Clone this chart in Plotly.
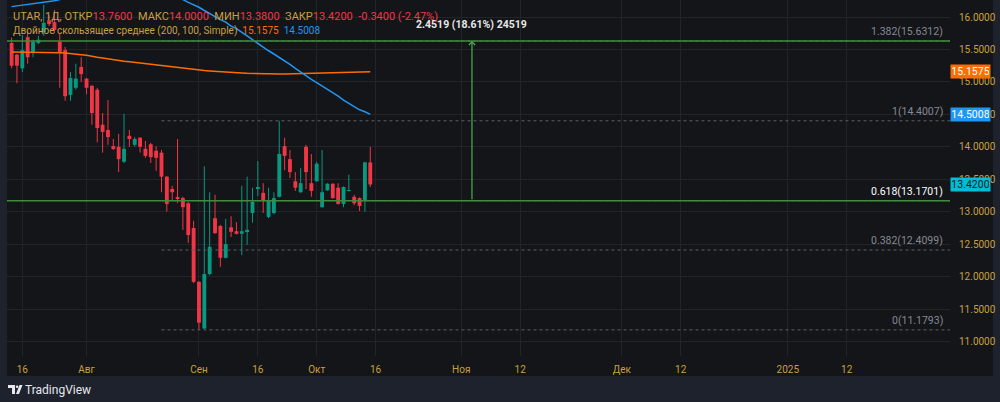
import plotly.graph_objects as go

# ---------------- data ----------------
opens = [15.60, 15.42, 15.21, 15.69, 15.45, 15.60, 15.77, 15.95, 15.92, 15.62,
         15.49, 14.80, 14.91, 15.23, 15.05, 14.94, 14.88, 14.34, 14.26, 14.01,
         14.00, 13.77, 14.17, 14.03, 14.14, 13.97, 14.04, 13.94, 13.91, 13.54,
         13.35, 13.21, 13.21, 13.13, 12.75, 11.92, 11.20, 12.04, 12.90, 12.78,
         12.29, 12.76, 12.70, 12.66, 12.70, 12.98, 13.35, 13.29, 12.92, 12.98,
         13.23, 14.01, 13.81, 13.47, 13.30, 14.00, 13.44, 13.47, 13.07, 13.33,
         13.43, 13.37, 13.12, 13.32, 13.23, 13.21, 13.17, 13.76]
highs = [15.68, 15.43, 15.72, 15.78, 15.65, 15.71, 16.19, 16.03, 16.11, 15.74,
         15.54, 15.15, 15.28, 15.38, 15.06, 14.95, 14.91, 14.52, 14.72, 14.12,
         14.20, 14.51, 14.26, 14.15, 14.15, 14.09, 14.06, 14.01, 13.95, 13.55,
         13.40, 14.12, 13.23, 13.15, 12.86, 11.93, 13.70, 13.30, 13.26, 12.80,
         12.89, 12.93, 12.84, 13.40, 13.54, 13.37, 13.78, 13.44, 13.37, 13.30,
         14.4007, 14.14, 13.95, 13.61, 13.67, 14.03, 13.89, 13.77, 13.95, 13.44,
         13.44, 13.44, 13.39, 13.57, 13.26, 13.22, 13.77, 14.00]
lows = [15.21, 14.98, 15.15, 15.28, 15.38, 15.58, 15.71, 15.86, 15.75, 14.91,
        14.71, 14.71, 14.88, 15.00, 14.81, 14.34, 14.07, 13.91, 14.03, 13.95,
        13.61, 13.75, 14.00, 14.00, 13.91, 13.83, 13.75, 13.63, 13.30, 13.00,
        13.17, 13.13, 12.72, 12.52, 11.90, 11.1793, 11.19, 12.02, 12.66, 12.15,
        12.28, 12.61, 12.65, 12.33, 12.49, 12.83, 13.24, 12.98, 12.90, 12.96,
        13.22, 13.64, 13.52, 13.32, 13.29, 13.35, 13.23, 13.46, 13.06, 13.32,
        13.20, 13.11, 13.07, 13.31, 13.10, 13.01, 13.00, 13.38]
closes = [15.25, 15.25, 15.49, 15.38, 15.62, 15.65, 15.91, 15.89, 15.80, 15.46,
          14.78, 15.06, 15.05, 15.12, 14.91, 14.52, 14.29, 14.23, 14.15, 13.98,
          13.81, 13.97, 14.12, 14.12, 14.00, 13.86, 13.84, 13.83, 13.54, 13.12,
          13.30, 13.20, 13.07, 12.64, 11.92, 11.29, 12.04, 12.46, 12.67, 12.29,
          12.50, 12.69, 12.66, 12.70, 12.72, 13.15, 13.38, 13.17, 13.18, 13.21,
          13.89, 13.86, 13.61, 13.37, 13.44, 13.61, 13.32, 13.74, 13.30, 13.43,
          13.21, 13.12, 13.38, 13.33, 13.13, 13.09, 13.76, 13.42]
sma200 = [15.46, 15.46, 15.46, 15.46, 15.46, 15.46, 15.46, 15.455, 15.45, 15.45,
          15.445, 15.44, 15.43, 15.42, 15.41, 15.39, 15.38, 15.37, 15.355, 15.34,
          15.33, 15.32, 15.31, 15.30, 15.29, 15.28, 15.27, 15.255, 15.245, 15.235,
          15.225, 15.215, 15.205, 15.195, 15.19, 15.18, 15.175, 15.17, 15.163, 15.157,
          15.152, 15.147, 15.142, 15.138, 15.134, 15.13, 15.127, 15.124, 15.122, 15.121,
          15.121, 15.122, 15.124, 15.126, 15.128, 15.13, 15.133, 15.135, 15.138, 15.14,
          15.143, 15.146, 15.148, 15.15, 15.152, 15.154, 15.156, 15.1575]
sma100 = [16.16, 16.17, 16.18, 16.19, 16.20, 16.21, 16.22, 16.23, 16.25, 16.27,
          16.29, 16.31, 16.33, 16.35, 16.36, 16.37, 16.38, 16.39, 16.40, 16.40,
          16.41, 16.41, 16.41, 16.40, 16.40, 16.39, 16.38, 16.37, 16.36, 16.34,
          16.32, 16.30, 16.27, 16.225, 16.19, 16.15, 16.10, 16.05, 16.01, 15.96,
          15.92, 15.86, 15.82, 15.77, 15.71, 15.65, 15.59, 15.54, 15.48, 15.43,
          15.38, 15.32, 15.27, 15.21, 15.15, 15.10, 15.04, 14.99, 14.94, 14.88,
          14.83, 14.78, 14.72, 14.67, 14.62, 14.57, 14.54, 14.5008]
tick_idx = [2, 14, 35, 46, 57, 68, 84, 95, 114, 125, 145, 156]
tick_lbl = ["16", "Авг", "Сен", "16", "Окт", "16", "Ноя", "12", "Дек", "12", "2025", "12"]
fib_ratio = ["0", "0.382", "0.618", "1", "1.382"]
fib_price = [11.1793, 12.4099, 13.1701, 14.4007, 15.6312]
fib_start = 28
range_bar = 86
range_from = 13.1701
range_to = 15.6312
range_text = "2.4519 (18.61%) 24519"
ticker = "UTAR, 1Д, "
ma_name = "Двойное скользящее среднее (200, 100, Simple)"

# ---------------- style ----------------
W, H = 1000, 402
OUTER = "#1e222d"
PANEL = "#131519"
GRID = "#212429"
GOLD = "#c9a040"
RED = "#f23645"
GREEN = "#089981"
ORANGE = "#ff6d00"
BLUE = "#2196f3"
CYAN = "#00bcd4"
FIBGREEN = "#3f8d3c"
FONT = "Liberation Sans Narrow, Roboto, Arial"
X_RANGE = [-0.86, 175.3]
Y_RANGE = [10.777, 16.262]
PLOT_L, PLOT_R, PLOT_B = 7, 950, 356
PANEL_R, PANEL_B = 993, 376


def px(x):
    return x / W


def py(y):
    return 1 - y / H


idx = list(range(len(opens)))
up = [c >= o for o, c in zip(opens, closes)]

fig = go.Figure()

# wicks
for is_up, col in ((True, GREEN), (False, RED)):
    wx, wy = [], []
    for i in idx:
        if up[i] == is_up:
            wx += [i, i, None]
            wy += [lows[i], highs[i], None]
    fig.add_trace(go.Scatter(x=wx, y=wy, mode="lines", line=dict(color=col, width=1),
                             hoverinfo="skip", showlegend=False))

# bodies
bases = [min(o, c) for o, c in zip(opens, closes)]
heights = [max(abs(c - o), 0.012) for o, c in zip(opens, closes)]
fig.add_trace(go.Bar(x=idx, y=heights, base=bases, width=0.72,
                     marker=dict(color=[GREEN if u else RED for u in up], line=dict(width=0)),
                     showlegend=False, hoverinfo="skip"))

# moving averages
fig.add_trace(go.Scatter(x=idx, y=sma200, mode="lines", line=dict(color=ORANGE, width=1.5),
                         showlegend=False, hoverinfo="skip"))
fig.add_trace(go.Scatter(x=idx, y=sma100, mode="lines", line=dict(color=BLUE, width=1.5),
                         showlegend=False, hoverinfo="skip"))

shapes = [dict(type="rect", xref="paper", yref="paper", x0=px(PLOT_L), x1=px(PANEL_R),
               y0=py(PANEL_B), y1=1, fillcolor=PANEL, line=dict(width=0), layer="below")]

annotations = []
# fib levels
for r, p in zip(fib_ratio, fib_price):
    shapes.append(dict(type="line", xref="x", yref="y", x0=fib_start, x1=X_RANGE[1], y0=p, y1=p,
                       line=dict(color="#5d6068", width=1, dash="dot")))
    annotations.append(dict(xref="x", yref="y", x=X_RANGE[1], y=p, xanchor="right", yanchor="bottom",
                            xshift=-5, yshift=1, showarrow=False,
                            text=f"{r}({p:.4f})",
                            font=dict(family=FONT, size=10.5,
                                      color="#ffffff" if r == "0.618" else "#868993")))
# green horizontal lines
for p in (range_from, range_to):
    shapes.append(dict(type="line", xref="x", yref="y", x0=X_RANGE[0], x1=X_RANGE[1], y0=p, y1=p,
                       line=dict(color=FIBGREEN, width=1.6)))

# price range arrow
annotations.append(dict(xref="x", yref="y", axref="x", ayref="y", x=range_bar, y=range_to,
                        ax=range_bar, ay=range_from, showarrow=True, arrowhead=4, arrowsize=1,
                        arrowwidth=1.2, arrowcolor="#4caf50", text=""))
annotations.append(dict(xref="x", yref="y", x=range_bar, y=range_to, yanchor="bottom", yshift=8,
                        showarrow=False, text=f"<b>{range_text}</b>",
                        font=dict(family=FONT, size=10.5, color="#e8e8e8")))

# price labels on the axis
for val, bg, fg in ((sma200[-1], ORANGE, "#ffffff"), (sma100[-1], BLUE, "#ffffff"),
                    (closes[-1], CYAN, "#131722")):
    annotations.append(dict(xref="paper", yref="y", x=px(PLOT_R), y=val, xanchor="left",
                            yanchor="middle", showarrow=False, text=f"{val:.4f}", bgcolor=bg,
                            width=37, height=11, align="center", borderpad=1,
                            font=dict(family=FONT, size=10.5, color=fg)))

# legend lines
chg = closes[-1] - closes[-2]
pct = chg / closes[-2] * 100


def red(s):
    return f"<span style='color:{RED}'>{s}</span>"


line1 = (f"{ticker}ОТКР{red(f'{opens[-1]:.4f}')}  МАКС{red(f'{highs[-1]:.4f}')}  "
         f"МИН{red(f'{lows[-1]:.4f}')}  ЗАКР{red(f'{closes[-1]:.4f}')}  "
         f"{red(f'{chg:.4f} ({pct:.2f}%)')}")
line2 = (f"{ma_name}  <span style='color:{ORANGE}'>{sma200[-1]:.4f}</span>  "
         f"<span style='color:{BLUE}'>{sma100[-1]:.4f}</span>")
annotations.append(dict(xref="paper", yref="paper", x=px(11), y=py(16), xanchor="left",
                        yanchor="middle", showarrow=False, text=line1,
                        font=dict(family=FONT, size=11, color=GOLD)))
annotations.append(dict(xref="paper", yref="paper", x=px(11), y=py(31), xanchor="left",
                        yanchor="middle", showarrow=False, text=line2,
                        font=dict(family=FONT, size=10, color=GOLD)))

# TradingView logo + text
logo = (f"M{px(8)},{py(385)} L{px(15)},{py(385)} L{px(15)},{py(394)} L{px(12)},{py(394)} "
        f"L{px(12)},{py(388)} L{px(8)},{py(388)} Z "
        f"M{px(16)},{py(394)} L{px(19)},{py(394)} L{px(22.5)},{py(385)} L{px(19.5)},{py(385)} Z")
shapes.append(dict(type="path", xref="paper", yref="paper", path=logo, fillcolor="#e6e8ee",
                   line=dict(width=0)))
shapes.append(dict(type="circle", xref="paper", yref="paper", x0=px(15.8), x1=px(18.4),
                   y0=py(388), y1=py(385.4), fillcolor="#e6e8ee", line=dict(width=0)))
annotations.append(dict(xref="paper", yref="paper", x=px(23), y=py(389.5), xanchor="left",
                        yanchor="middle", showarrow=False, text="TradingView",
                        font=dict(family=FONT, size=12, color="#e6e8ee")))

fig.update_layout(
    width=W, height=H, margin=dict(l=0, r=0, t=0, b=0),
    paper_bgcolor=OUTER, plot_bgcolor="rgba(0,0,0,0)",
    barmode="overlay", showlegend=False, hovermode=False,
    shapes=shapes, annotations=annotations,
    xaxis=dict(domain=[px(PLOT_L), px(PLOT_R)], range=X_RANGE, tickvals=tick_idx, ticktext=tick_lbl,
               showgrid=True, gridcolor=GRID, gridwidth=1, zeroline=False, showline=False,
               ticks="outside", ticklen=4, tickcolor="rgba(0,0,0,0)", automargin=False,
               tickfont=dict(family=FONT, size=10, color=GOLD), fixedrange=True),
    yaxis=dict(domain=[py(PLOT_B), 1], range=Y_RANGE, side="right", tick0=11, dtick=0.5,
               tickformat=".4f", showgrid=True, gridcolor=GRID, gridwidth=1, zeroline=False,
               showline=False, ticks="outside", ticklen=6, tickcolor="rgba(0,0,0,0)",
               automargin=False, tickfont=dict(family=FONT, size=10, color=GOLD),
               fixedrange=True),
)

fig.write_html("out.html")
